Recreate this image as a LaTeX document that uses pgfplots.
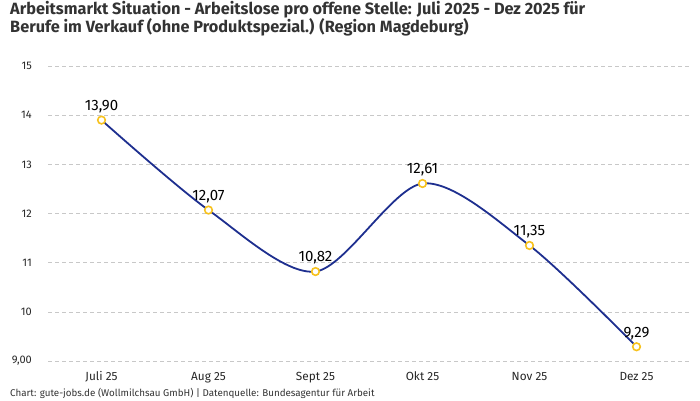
\documentclass[border=0pt]{standalone}
\usepackage{fontspec}
\setmainfont{Fira Sans}
\usepackage{pgfplots}
\usepackage{pgfplotstable}
\pgfplotsset{compat=1.18}
\definecolor{linecol}{HTML}{1E2F8F}
\definecolor{markcol}{HTML}{F7C21E}
\definecolor{txt}{HTML}{333333}
\definecolor{gridc}{HTML}{C8C8C8}
\newcommand\tl{\fontsize{11.8}{13}\selectfont}
\newcommand\yl{\fontsize{11}{13}\selectfont}

\pgfplotstableread{
x y lab
0 13.90 13,90
1 12.07 12,07
2 10.82 10,82
3 12.61 12,61
4 11.35 11,35
5 9.29  9,29
}\arbeit

\begin{document}
\begin{tikzpicture}
\useasboundingbox (0pt,0pt) rectangle (700pt,400pt);
\node[anchor=base west, inner sep=0, text=txt, font=\fontsize{16.3}{18}\selectfont\bfseries] at (10pt,385pt)
  {Arbeitsmarkt Situation - Arbeitslose pro offene Stelle: Juli 2025 - Dez 2025 für};
\node[anchor=base west, inner sep=0, text=txt, font=\fontsize{16.3}{18}\selectfont\bfseries] at (10pt,367pt)
  {Berufe im Verkauf (ohne Produktspezial.) (Region Magdeburg)};
\node[anchor=base west, inner sep=0, text=txt, font=\fontsize{9.8}{12}\selectfont] at (10pt,3.5pt)
  {Chart: gute-jobs.de (Wollmilchsau GmbH) | Datenquelle: Bundesagentur für Arbeit};
\begin{axis}[
    at={(48pt,39pt)}, anchor=south west,
    scale only axis, width=642pt, height=295pt,
    xmin=-0.5, xmax=5.5, ymin=9, ymax=15,
    axis line style={draw=none},
    major tick length=0pt,
    xtick=data,
    xticklabels={\tl Juli 25, \tl Aug 25, \tl Sept 25, \tl Okt 25, \tl Nov 25, \tl Dez 25},
    ytick={9,10,11,12,13,14,15},
    yticklabels={{\yl 9,00},\yl 10,\yl 11,\yl 12,\yl 13,\yl 14,\yl 15},
    /pgf/number format/assume math mode=true,
    ymajorgrids,
    grid style={gridc, dash pattern=on 4pt off 3pt, line width=0.6pt},
    yticklabel style={anchor=east, inner sep=0pt, xshift=-16pt, text=black!85},
    xticklabel style={anchor=base, inner sep=0pt, yshift=-19pt, text=black!85},
    clip=false,
  ]
  \addplot[linecol, line width=1.8pt, smooth, tension=0.5,
    mark=*, mark size=3.8pt,
    mark options={draw=markcol, fill=white, line width=1.6pt},
    nodes near coords, point meta=explicit symbolic,
    every node near coord/.append style={text=black, font=\fontsize{15}{16}\selectfont, anchor=south, yshift=3pt}]
    table[x=x, y=y, meta=lab] {\arbeit};
\end{axis}
\end{tikzpicture}
\end{document}
